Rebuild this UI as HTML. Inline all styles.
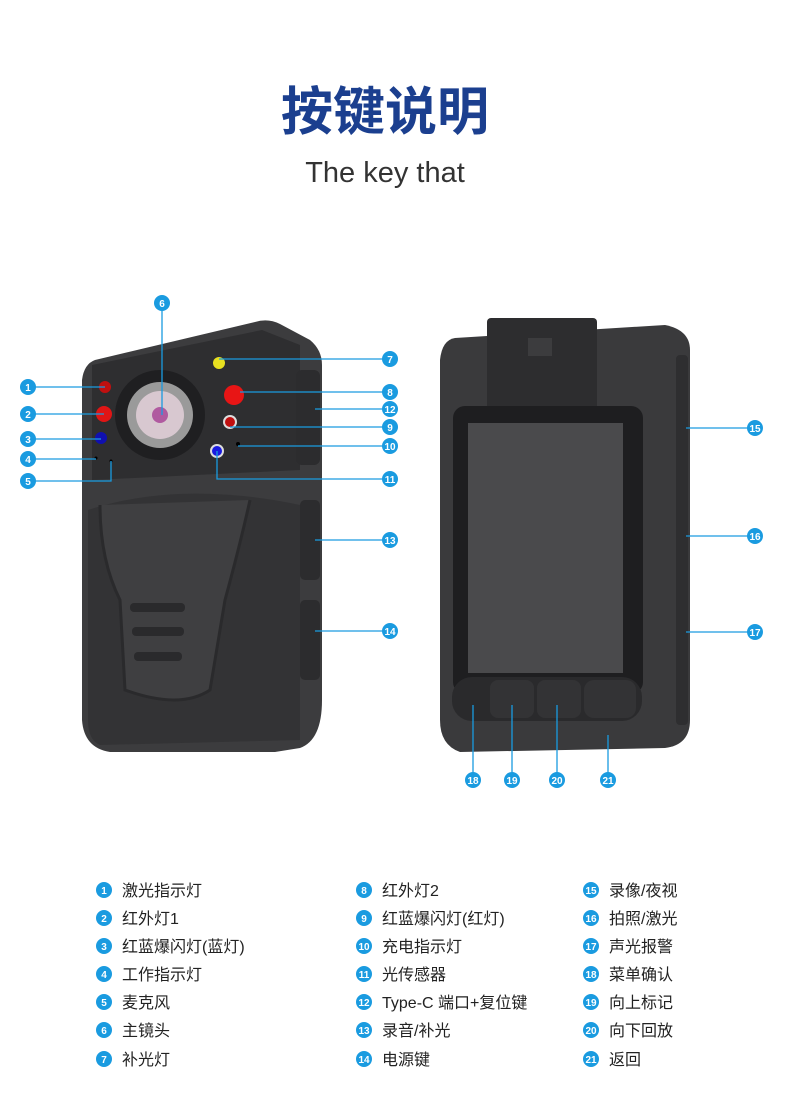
<!DOCTYPE html>
<html><head><meta charset="utf-8"><style>
body{margin:0;width:790px;height:1113px;background:#fff;overflow:hidden;font-family:"Liberation Sans","Noto Sans CJK SC",sans-serif}
</style></head><body>
<svg width="790" height="1113" viewBox="0 0 790 1113" xmlns="http://www.w3.org/2000/svg" style="position:absolute;left:0;top:0">
<text x="385" y="130" text-anchor="middle" font-family="Noto Sans CJK SC,sans-serif" font-weight="bold" font-size="52" fill="#1b3f8f">按键说明</text>
<text x="385" y="182" text-anchor="middle" font-family="Liberation Sans,sans-serif" font-size="29" fill="#333">The key that</text>

<!-- left device -->
<path d="M95 360 L255 322 Q268 318 280 324 L310 340 Q322 350 322 365 L322 700 Q322 740 300 748 L275 752 L110 752 Q84 748 82 720 L82 380 Q84 364 95 360Z" fill="#3c3c3e"/>
<path d="M92 365 L262 330 L300 345 L300 470 L92 480Z" fill="#2e2e30"/>
<path d="M88 510 Q180 480 300 505 L300 740 L100 745 Q88 740 88 720Z" fill="#333335"/>
<path d="M100 505 Q100 560 120 600 L125 690 Q180 710 210 690 L225 600 Q240 545 250 500" fill="#3f3f41" stroke="#2a2a2c" stroke-width="3"/>
<rect x="130" y="603" width="55" height="9" rx="4" fill="#2a2a2c"/><rect x="132" y="627" width="52" height="9" rx="4" fill="#2a2a2c"/><rect x="134" y="652" width="48" height="9" rx="4" fill="#2a2a2c"/>
<rect x="296" y="370" width="24" height="95" rx="6" fill="#2c2c2e"/>
<rect x="300" y="500" width="20" height="80" rx="5" fill="#2c2c2e"/>
<rect x="300" y="600" width="20" height="80" rx="5" fill="#2c2c2e"/>
<circle cx="160" cy="415" r="45" fill="#1f1f21"/>
<circle cx="160" cy="415" r="33" fill="#9a9a9a"/>
<circle cx="160" cy="415" r="24" fill="#d8c8d0"/>
<circle cx="160" cy="415" r="8" fill="#b05aa0"/>
<circle cx="105" cy="387" r="6" fill="#c01010"/>
<circle cx="104" cy="414" r="8" fill="#e01515"/>
<circle cx="101" cy="438" r="6" fill="#1010b0"/>
<circle cx="219" cy="363" r="6" fill="#e8e020"/>
<circle cx="234" cy="395" r="10" fill="#e81515"/>
<circle cx="230" cy="422" r="7" fill="#ddd"/><circle cx="230" cy="422" r="5" fill="#c01010"/>
<circle cx="217" cy="451" r="7" fill="#ddd"/><circle cx="217" cy="451" r="5" fill="#1a1ae0"/>
<circle cx="96" cy="458" r="1.5" fill="#000"/><circle cx="111" cy="461" r="1.5" fill="#000"/><circle cx="238" cy="444" r="2" fill="#000"/>

<!-- right device -->
<path d="M455 338 L665 325 Q690 330 690 350 L690 720 Q690 745 665 748 L460 752 Q440 745 440 720 L440 360 Q442 340 455 338Z" fill="#3a3a3c"/>
<rect x="487" y="318" width="110" height="98" rx="4" fill="#2d2d2f"/>
<rect x="528" y="338" width="24" height="18" fill="#3c3c3e"/>
<rect x="453" y="406" width="190" height="288" rx="12" fill="#1e1e20"/>
<rect x="468" y="423" width="155" height="250" fill="#4a4a4c"/>
<rect x="452" y="677" width="190" height="44" rx="20" fill="#2a2a2c"/>
<rect x="490" y="680" width="44" height="38" rx="8" fill="#333335"/><rect x="537" y="680" width="44" height="38" rx="8" fill="#333335"/><rect x="584" y="680" width="52" height="38" rx="10" fill="#333335"/>
<rect x="676" y="355" width="12" height="370" rx="4" fill="#2e2e30"/>

<g stroke="#1a9be0" stroke-width="1.3" fill="none">
<path d="M28 387H105M28 414H104M28 439H101M28 459H96M28 481H111V461M162 303V415M219 359H390M240 392H390M315 409H390M230 427H390M238 446H390M217 451V479H390M315 540H390M315 631H390M686 428H755M686 536H755M686 632H755M473 705V780M512 705V780M557 705V780M608 735V780"/>
</g>
<g font-family="Liberation Sans,sans-serif" font-weight="bold" font-size="10" fill="#fff" text-anchor="middle">
<g fill="#1a9be0" stroke="none">
<circle cx="28" cy="387" r="8"/><circle cx="28" cy="414" r="8"/><circle cx="28" cy="439" r="8"/><circle cx="28" cy="459" r="8"/><circle cx="28" cy="481" r="8"/><circle cx="162" cy="303" r="8"/><circle cx="390" cy="359" r="8"/><circle cx="390" cy="392" r="8"/><circle cx="390" cy="409" r="8"/><circle cx="390" cy="427" r="8"/><circle cx="390" cy="446" r="8"/><circle cx="390" cy="479" r="8"/><circle cx="390" cy="540" r="8"/><circle cx="390" cy="631" r="8"/><circle cx="755" cy="428" r="8"/><circle cx="755" cy="536" r="8"/><circle cx="755" cy="632" r="8"/><circle cx="473" cy="780" r="8"/><circle cx="512" cy="780" r="8"/><circle cx="557" cy="780" r="8"/><circle cx="608" cy="780" r="8"/>
</g>
<text x="28" y="391">1</text><text x="28" y="418">2</text><text x="28" y="443">3</text><text x="28" y="463">4</text><text x="28" y="485">5</text><text x="162" y="307">6</text><text x="390" y="363">7</text><text x="390" y="396">8</text><text x="390" y="413">12</text><text x="390" y="431">9</text><text x="390" y="450">10</text><text x="390" y="483">11</text><text x="390" y="544">13</text><text x="390" y="635">14</text><text x="755" y="432">15</text><text x="755" y="540">16</text><text x="755" y="636">17</text><text x="473" y="784">18</text><text x="512" y="784">19</text><text x="557" y="784">20</text><text x="608" y="784">21</text>
</g>

<!-- legend -->
<g fill="#1a9be0">
<circle cx="104" cy="890" r="8"/><circle cx="104" cy="918" r="8"/><circle cx="104" cy="946" r="8"/><circle cx="104" cy="974" r="8"/><circle cx="104" cy="1002" r="8"/><circle cx="104" cy="1030" r="8"/><circle cx="104" cy="1059" r="8"/>
<circle cx="364" cy="890" r="8"/><circle cx="364" cy="918" r="8"/><circle cx="364" cy="946" r="8"/><circle cx="364" cy="974" r="8"/><circle cx="364" cy="1002" r="8"/><circle cx="364" cy="1030" r="8"/><circle cx="364" cy="1059" r="8"/>
<circle cx="591" cy="890" r="8"/><circle cx="591" cy="918" r="8"/><circle cx="591" cy="946" r="8"/><circle cx="591" cy="974" r="8"/><circle cx="591" cy="1002" r="8"/><circle cx="591" cy="1030" r="8"/><circle cx="591" cy="1059" r="8"/>
</g>
<g font-family="Liberation Sans,sans-serif" font-weight="bold" font-size="10" fill="#fff" text-anchor="middle">
<text x="104" y="894">1</text><text x="104" y="922">2</text><text x="104" y="950">3</text><text x="104" y="978">4</text><text x="104" y="1006">5</text><text x="104" y="1034">6</text><text x="104" y="1063">7</text>
<text x="364" y="894">8</text><text x="364" y="922">9</text><text x="364" y="950">10</text><text x="364" y="978">11</text><text x="364" y="1006">12</text><text x="364" y="1034">13</text><text x="364" y="1063">14</text>
<text x="591" y="894">15</text><text x="591" y="922">16</text><text x="591" y="950">17</text><text x="591" y="978">18</text><text x="591" y="1006">19</text><text x="591" y="1034">20</text><text x="591" y="1063">21</text>
</g>
<g font-family="Liberation Sans,Noto Sans CJK SC,sans-serif" font-size="16" fill="#222">
<text x="122" y="896">激光指示灯</text><text x="122" y="924">红外灯1</text><text x="122" y="952">红蓝爆闪灯(蓝灯)</text><text x="122" y="980">工作指示灯</text><text x="122" y="1008">麦克风</text><text x="122" y="1036">主镜头</text><text x="122" y="1065">补光灯</text>
<text x="382" y="896">红外灯2</text><text x="382" y="924">红蓝爆闪灯(红灯)</text><text x="382" y="952">充电指示灯</text><text x="382" y="980">光传感器</text><text x="382" y="1008">Type-C 端口+复位键</text><text x="382" y="1036">录音/补光</text><text x="382" y="1065">电源键</text>
<text x="609" y="896">录像/夜视</text><text x="609" y="924">拍照/激光</text><text x="609" y="952">声光报警</text><text x="609" y="980">菜单确认</text><text x="609" y="1008">向上标记</text><text x="609" y="1036">向下回放</text><text x="609" y="1065">返回</text>
</g>
</svg>
</body></html>
